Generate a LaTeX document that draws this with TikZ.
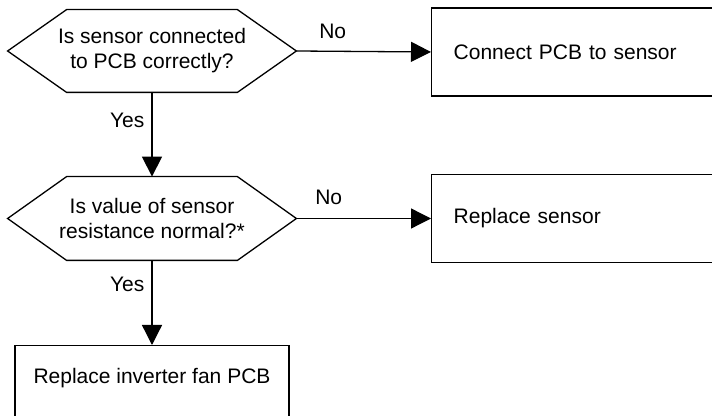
\documentclass[tikz,border=0pt]{standalone}
\usepackage{fontspec}
\setmainfont{Liberation Sans}
\usetikzlibrary{arrows.meta}

\tikzset{
  question/.style={inner sep=0pt,minimum width=144pt,minimum height=41pt,align=center},
  action/.style={draw,line width=0.7pt,anchor=west,minimum height=44pt,inner xsep=11pt,
                 text width=138pt,align=left},
  flow/.style={-{Triangle[length=10pt,width=10pt]},line width=0.65pt},
  answer/.style={inner sep=0pt}
}

\begin{document}
\begin{tikzpicture}[x=0.5pt,y=-0.5pt,font=\fontsize{10.5}{12.5}\selectfont]
  \useasboundingbox (0,0) rectangle (712,416);
  \clip (0,0) rectangle (712,416);
  % decisions
  \node[question] (q1) at (152,51) {Is sensor connected\\to PCB correctly?};
  \node[question,minimum height=41.5pt] (q2) at (152,218.5) {Is value of sensor\\resistance normal?*};
  \foreach \q in {q1,q2}
    \draw[line width=0.65pt] (\q.west) -- ([xshift=29.5pt]\q.north west) -- ([xshift=-29.5pt]\q.north east)
      -- (\q.east) -- ([xshift=-29.5pt]\q.south east) -- ([xshift=29.5pt]\q.south west) -- cycle;
  % actions
  \node[action] (a1) at (431,52) {Connect PCB to sensor};
  \node[action] (a2) at (431,218.5) {Replace sensor};
  \node[draw,line width=0.7pt,anchor=north,minimum width=137pt,inner ysep=0pt,
        text height=19pt,text depth=28.5pt] (a3) at (152,345) {Replace inverter fan PCB};
  % connectors
  \draw[flow] (q1.east) -- node[answer,pos=0.27,above=6pt] (n1) {No} (a1.west);
  \draw[flow] (q2.east) -- node[answer,pos=0.24,above=6.75pt] (n2) {No} (a2.west);
  \draw[flow] (q1.south) -- node[answer,pos=0.33,left=3.5pt] (y1) {Yes} (q2.north);
  \draw[flow] (q2.south) -- node[answer,pos=0.28,left=3.5pt] (y2) {Yes} (a3.north);
\end{tikzpicture}
\end{document}
